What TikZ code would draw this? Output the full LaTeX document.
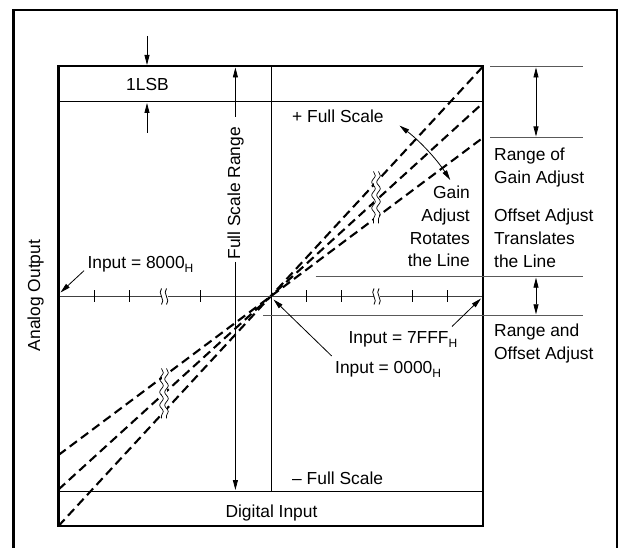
\documentclass[tikz,border=0pt]{standalone}
\usepackage{fontspec}
\setmainfont{Liberation Sans}
\usetikzlibrary{arrows.meta,decorations.pathmorphing}
\newcommand\hsub{\raisebox{-4.5pt}{\fontsize{12}{12}\selectfont H}}
\begin{document}
\begin{tikzpicture}[x=1pt,y=-1pt,
  boxline/.style={line width=2.3pt},
  rule/.style={line width=1.1pt},
  greyrule/.style={line width=1pt, draw=black!65},
  lbl/.style={inner sep=0pt, font=\fontsize{17.4}{22}\selectfont},
  tip/.style={-{Triangle[length=10pt,width=5pt]}, line width=0.8pt},
  twotip/.style={{Triangle[length=10pt,width=5pt]}-{Triangle[length=10pt,width=5pt]}, line width=0.8pt},
  dline/.style={line width=2.1pt, dash pattern=on 9pt off 5pt},
  wavy/.style={line width=0.7pt, decorate, decoration={snake, segment length=13pt, amplitude=1.8pt}},
  tick/.style={line width=0.8pt},
]
\useasboundingbox (0,0) rectangle (622,548);

% outer frame (bottom edge cut off)
\draw[boxline] (13.5,560) -- (13.5,9.7) -- (617,9.7) -- (617,560);

\coordinate (C) at (270.75,296.5);
% box corners
\coordinate (BL) at (58.5,525.7);
\coordinate (TR) at (483,66.3);

% dashed transfer lines
\coordinate (d1a) at (58.5,526);   \coordinate (d1b) at (483,66.5);
\coordinate (d2a) at (58.5,489.5); \coordinate (d2b) at (483,103);
\coordinate (d3a) at (58.5,455);   \coordinate (d3b) at (483,137.7);
\draw[dline] (d1a) -- (d1b);
\draw[dline] (d2a) -- (d2b);
\draw[dline] (d3a) -- (d3b);

% breaks on dashed lines
\fill[white] (373.5,170) rectangle (378.5,225);
\draw[wavy] (373.5,171.5) -- (373.5,223.5);
\draw[wavy] (378.5,171.5) -- (378.5,223.5);
\fill[white] (161.5,368) rectangle (166.5,419);
\draw[wavy] (161.5,368.5) -- (161.5,418.5);
\draw[wavy] (166.5,368.5) -- (166.5,418.5);

% horizontal axis
\draw[line width=1.2pt, draw=black!75] (58.5,296.5) -- (162,296.5);
\draw[line width=1.2pt, draw=black!75] (168,296.5) -- (374,296.5);
\draw[line width=1.2pt, draw=black!75] (380,296.5) -- (483,296.5);
\foreach \t in {94.25,129.55,200.15,235.45,306.05,341.35,412,447.25}
  \draw[tick] (\t,290.5) -- (\t,302.5);
\foreach \s in {161.5,166.5,374,379}
  \draw[line width=0.8pt] (\s,288.5) .. controls (\s-4.5,293) and (\s+4.5,300) .. (\s,304.5);

% inner rules
\draw[rule] (58.5,101.7) -- (483,101.7);
\draw[rule] (58.5,491.3) -- (483,491.3);
\draw[line width=1pt] (271,66.3) -- (271,491.3);

% inner box
\draw[boxline] (BL) rectangle (TR);

% right-side reference lines
\draw[greyrule] (490,66.3) -- (582.7,66.3);
\draw[greyrule] (490,137.7) -- (582.7,137.7);
\draw[greyrule] (315.7,276.7) -- (582.7,276.7);
\draw[greyrule] (263,315.3) -- (582.7,315.3);
\coordinate (g1) at (536,67.5);  \coordinate (g2) at (536,136.5);
\draw[twotip] (g1) -- (g2);
\coordinate (o1) at (536,277.7); \coordinate (o2) at (536,314.3);
\draw[twotip] (o1) -- (o2);

% 1LSB
\node[lbl, anchor=base] (lsb) at (147.5,91) {1LSB};
\coordinate (l1) at (147,36);  \coordinate (l2) at (147,65);
\coordinate (l3) at (147,133); \coordinate (l4) at (147,103);
\draw[tip] (l1) -- (l2);
\draw[tip] (l3) -- (l4);

% Full Scale Range
\node[lbl, anchor=base, rotate=90] (fsr) at (240.2,193.3) {Full Scale Range};
\coordinate (f1) at (235.4,117); \coordinate (f2) at (235.4,67.5);
\coordinate (f3) at (235.4,262); \coordinate (f4) at (235.4,490);
\draw[tip] (f1) -- (f2);
\draw[tip] (f3) -- (f4);

% Analog Output
\node[lbl, anchor=base, rotate=90] (ao) at (40.2,295.5) {Analog Output};

% scale labels
\node[lbl, anchor=base west] (pfs) at (292,122.7) {+ Full Scale};
\node[lbl, anchor=base west] (mfs) at (292,484) {– Full Scale};
\node[lbl, anchor=base] (di) at (271.5,517.7) {Digital Input};

% gain adjust
\node[lbl, anchor=base east] (ga1) at (470,199) {Gain};
\node[lbl, anchor=base east] (ga2) at (470,221.7) {Adjust};
\node[lbl, anchor=base east] (ga3) at (470,244.3) {Rotates};
\node[lbl, anchor=base east] (ga4) at (470,267) {the Line};
\draw[twotip] (399.5,125.6) arc[start angle=-53, end angle=-33, radius=214];

% right texts
\node[lbl, anchor=base west] (rg1) at (494,161) {Range of};
\node[lbl, anchor=base west] (rg2) at (494,183.6) {Gain Adjust};
\node[lbl, anchor=base west] (oa1) at (494,221.7) {Offset Adjust};
\node[lbl, anchor=base west] (oa2) at (494,244.6) {Translates};
\node[lbl, anchor=base west] (oa3) at (494,267.5) {the Line};
\node[lbl, anchor=base west] (ro1) at (494,336.7) {Range and};
\node[lbl, anchor=base west] (ro2) at (494,359.6) {Offset Adjust};

% input labels
\node[lbl, anchor=base west] (i8) at (87.3,268.3) {Input = 8000\hsub};
\node[lbl, anchor=base west] (i7) at (348.3,343.3) {Input = 7FFF\hsub};
\node[lbl, anchor=base west] (i0) at (335,373.3) {Input = 0000\hsub};
\coordinate (a8) at (84,270.7);   \coordinate (e8) at (60.5,292.5);
\coordinate (a7) at (452,326.5);  \coordinate (e7) at (481,298.5);
\coordinate (a0) at (331.7,356);  \coordinate (e0) at (273.5,299.5);
\draw[tip] (a8) -- (e8);
\draw[tip] (a7) -- (e7);
\draw[tip] (a0) -- (e0);
\end{tikzpicture}
\end{document}
